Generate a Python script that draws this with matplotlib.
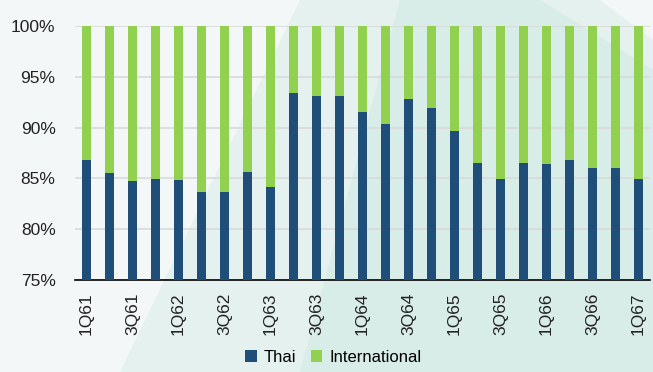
import numpy as np
import matplotlib.pyplot as plt
from matplotlib.patches import Polygon
from matplotlib.ticker import FuncFormatter

plt.rcParams['font.family'] = ['Liberation Sans', 'DejaVu Sans']

quarters = ['1Q61', '2Q61', '3Q61', '4Q61', '1Q62', '2Q62', '3Q62', '4Q62',
            '1Q63', '2Q63', '3Q63', '4Q63', '1Q64', '2Q64', '3Q64', '4Q64',
            '1Q65', '2Q65', '3Q65', '4Q65', '1Q66', '2Q66', '3Q66', '4Q66',
            '1Q67']
thai = [86.8, 85.5, 84.7, 84.9, 84.8, 83.7, 83.7, 85.6, 84.2, 93.4,
        93.1, 93.1, 91.5, 90.4, 92.8, 91.9, 89.7, 86.5, 84.9, 86.5,
        86.4, 86.8, 86.0, 86.0, 84.9]
intl = [100 - v for v in thai]

fig = plt.figure(figsize=(6.53, 3.72), dpi=100)
fig.patch.set_facecolor('#f4f7f7')

# pale teal background band
bg = fig.add_axes([0, 0, 1, 1], zorder=-1)
bg.set_xlim(0, 653)
bg.set_ylim(372, 0)
bg.axis('off')
bg.add_patch(Polygon([(300, 0), (600, 0), (653, 40), (653, 372), (120, 372)],
                     closed=True, color='#e4f1ef', lw=0))
bg.add_patch(Polygon([(400, 0), (540, 0), (653, 70), (653, 372), (300, 372)],
                     closed=True, color='#d8ece8', lw=0))

ax = fig.add_axes([75/653, 1 - 280/372, 575/653, 254/372])
ax.set_facecolor('none')
x = np.arange(len(quarters))
ax.bar(x, thai, width=0.4, color='#1f4e79', label='Thai', zorder=3)
ax.bar(x, intl, width=0.4, bottom=thai, color='#92d050',
       label='International', zorder=3)

ax.set_xlim(-0.5, len(quarters) - 0.5)
ax.set_ylim(75, 100)
ax.set_yticks([75, 80, 85, 90, 95, 100])
ax.yaxis.set_major_formatter(FuncFormatter(lambda v, p: '%d%%' % v))
ax.set_xticks(x[::2])
ax.set_xticklabels(quarters[::2], rotation=90)
ax.tick_params(axis='both', length=0, labelsize=12.5, colors='#222222')
ax.tick_params(axis='y', pad=14)
ax.tick_params(axis='x', pad=9)
ax.grid(axis='y', color='#d9d9d9', lw=1.2, zorder=0)
for s in ['top', 'right', 'left']:
    ax.spines[s].set_visible(False)
ax.spines['bottom'].set_color('black')
ax.spines['bottom'].set_linewidth(1.2)

ax.legend(loc='center', bbox_to_anchor=(333/653, 1 - 357/372),
          bbox_transform=fig.transFigure, ncol=2,
          frameon=False, fontsize=12, handlelength=0.7, handleheight=0.7,
          handletextpad=0.4, columnspacing=0.9, borderpad=0)

plt.savefig('out.png', dpi=100, facecolor=fig.get_facecolor())
